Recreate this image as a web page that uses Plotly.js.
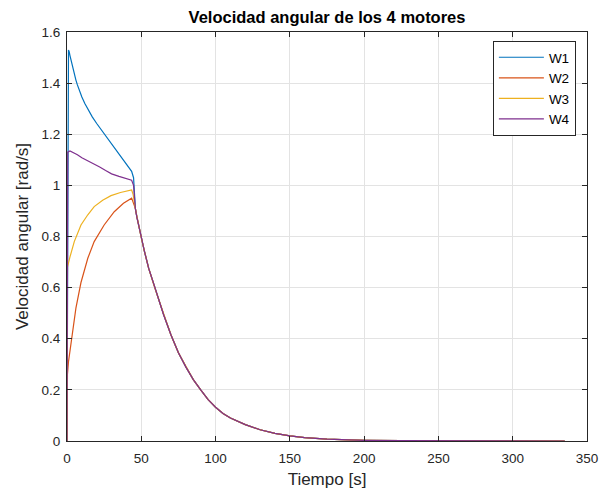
<!DOCTYPE html>
<html>
<head>
<meta charset="utf-8">
<script src="https://cdn.plot.ly/plotly-3.0.1.min.js"></script>
<style>html,body{margin:0;padding:0;background:#fff;}#chart{width:609px;height:496px;}</style>
</head>
<body>
<div id="chart"></div>
<script>
// Time stamps [s] and angular velocity [rad/s]
var tW1 = [0, 1, 1.5, 2, 3, 4, 5, 6, 7, 8, 10, 12, 14, 17, 20, 25, 30, 35, 40, 43.5, 44.8];
var vW1 = [0, 1.53, 1.522, 1.508, 1.482, 1.457, 1.434, 1.412, 1.393, 1.376, 1.346, 1.32, 1.298, 1.268, 1.242, 1.203, 1.165, 1.126, 1.087, 1.055, 1.03];

var tW2 = [0, 0.3, 1, 2.8, 6, 9.4, 14, 18.3, 25, 31.8, 38, 43.5, 44.5];
var vW2 = [0, 0.26, 0.31, 0.39, 0.52, 0.62, 0.715, 0.78, 0.845, 0.897, 0.93, 0.95, 0.935];

var tW3 = [0, 0.3, 2, 4.9, 9.4, 14, 18.3, 24, 29.6, 36, 43.5, 44.5];
var vW3 = [0, 0.68, 0.72, 0.78, 0.845, 0.885, 0.917, 0.942, 0.96, 0.972, 0.982, 0.965];

var tW4 = [0, 0.5, 2, 4, 7, 10, 14, 18, 22, 26, 30, 35, 40, 43.5, 44.8];
var vW4 = [0, 1.13, 1.135, 1.13, 1.12, 1.108, 1.097, 1.085, 1.072, 1.058, 1.045, 1.035, 1.027, 1.02, 1.0];

// Common decay after the motors are released
var tTail = [46, 47, 48, 50, 52, 55, 59, 65, 70, 75, 80, 85, 90, 95, 100, 105, 110, 120, 130, 140, 150, 160, 175, 200, 225, 250, 275, 300, 335];
var vTail = [0.91, 0.877, 0.848, 0.795, 0.745, 0.675, 0.60, 0.495, 0.415, 0.345, 0.29, 0.24, 0.20, 0.162, 0.132, 0.108, 0.09, 0.064, 0.044, 0.03, 0.02, 0.0135, 0.0075, 0.0028, 0.0011, 0.0005, 0.0002, 0.0001, 0.00005];

var names = ['W1', 'W2', 'W3', 'W4'];
var colors = ['#0072BD', '#D95319', '#EDB120', '#7E2F8E'];
var heads = [[tW1, vW1], [tW2, vW2], [tW3, vW3], [tW4, vW4]];

var xTicks = [0, 50, 100, 150, 200, 250, 300, 350];
var yTicks = [0, 0.2, 0.4, 0.6, 0.8, 1, 1.2, 1.4, 1.6];

var traces = heads.map(function (h, i) {
  return {
    x: h[0].concat(tTail),
    y: h[1].concat(vTail),
    type: 'scatter',
    mode: 'lines',
    name: names[i],
    line: {color: colors[i], width: 1.2}
  };
});

var FONT = 'Liberation Sans, Arial, sans-serif';

var axisCommon = {
  showline: true,
  linecolor: '#262626',
  linewidth: 1,
  mirror: 'ticks',
  ticks: 'inside',
  ticklen: 5,
  tickcolor: '#262626',
  showgrid: true,
  gridcolor: '#e3e3e3',
  gridwidth: 1,
  zeroline: false,
  tickfont: {family: FONT, size: 13.5, color: '#262626'}
};

var layout = {
  width: 609,
  height: 496,
  margin: {l: 67, r: 22, t: 32, b: 55},
  paper_bgcolor: '#ffffff',
  plot_bgcolor: '#ffffff',
  title: {
    text: '<b>Velocidad angular de los 4 motores</b>',
    font: {family: FONT, size: 16.5, color: '#000000'},
    x: 0.537, xanchor: 'center', y: 0.966, yanchor: 'middle'
  },
  xaxis: Object.assign({}, axisCommon, {
    range: [0, 350],
    tickvals: xTicks,
    ticklabelstandoff: 5,
    title: {text: 'Tiempo [s]', font: {family: FONT, size: 17, color: '#262626'}, standoff: 7}
  }),
  yaxis: Object.assign({}, axisCommon, {
    range: [0, 1.6],
    tickvals: yTicks,
    ticklabelstandoff: 3,
    title: {text: 'Velocidad angular [rad/s]', font: {family: FONT, size: 17, color: '#262626'}, standoff: 8}
  }),
  showlegend: true,
  legend: {
    x: 0.819, y: 0.978, xanchor: 'left', yanchor: 'top',
    bgcolor: '#ffffff',
    bordercolor: '#262626',
    borderwidth: 1,
    itemwidth: 45,
    font: {family: FONT, size: 13.5, color: '#000000'},
    tracegroupgap: 0
  }
};

Plotly.newPlot('chart', traces, layout, {displayModeBar: false, staticPlot: true});
</script>
</body>
</html>
